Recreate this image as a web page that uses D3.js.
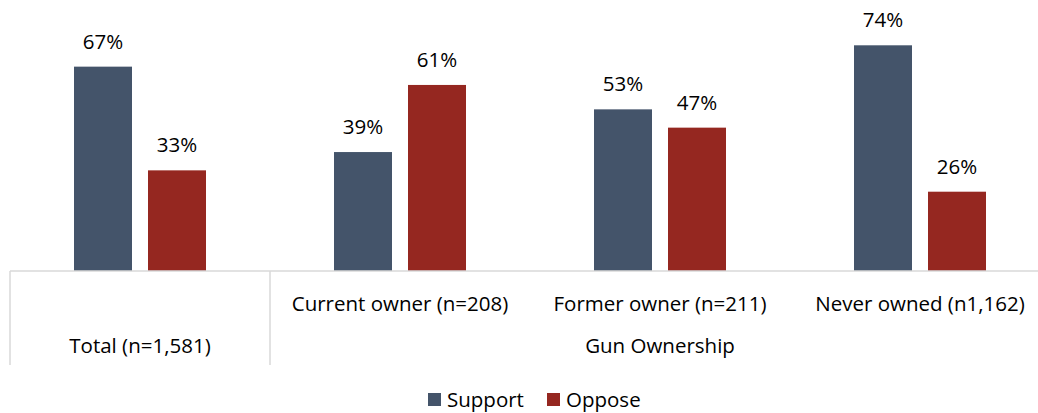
<!DOCTYPE html>
<html>
<head>
<meta charset="utf-8">
<script src="https://cdn.jsdelivr.net/npm/d3@7"></script>
<style>
  html, body { margin: 0; padding: 0; background: #fff; }
  svg { display: block; font-family: "Open Sans", Lato, sans-serif; }
</style>
</head>
<body>
<svg id="chart" width="1038" height="413"></svg>
<script>
// Survey results by group
const categories = ["Total (n=1,581)", "Current owner (n=208)", "Former owner (n=211)", "Never owned (n1,162)"];
const series = ["Support", "Oppose"];
const supportValues = [67, 39, 53, 74];
const opposeValues = [33, 61, 47, 26];
const groupLabel = "Gun Ownership";
const colors = ["#44546a", "#952720"];

const svg = d3.select("#chart");
const baseY = 271;
const fontSize = 20.5;

const x = d3.scaleBand().domain(categories).range([10, 1050]).padding(0);
const xInner = d3.scaleBand().domain(series).range([64, 196]).paddingInner(16 / 74).paddingOuter(0);
const y = d3.scaleLinear().domain([0, 80]).range([baseY, 27]);
const color = d3.scaleOrdinal().domain(series).range(colors);

const rows = categories.map((c, i) => ({
  category: c,
  values: [
    { key: "Support", value: supportValues[i] },
    { key: "Oppose", value: opposeValues[i] }
  ]
}));

const groups = svg.selectAll("g.group")
  .data(rows)
  .join("g")
  .attr("class", "group")
  .attr("transform", d => `translate(${x(d.category)},0)`);

groups.selectAll("rect")
  .data(d => d.values)
  .join("rect")
  .attr("x", d => xInner(d.key))
  .attr("width", xInner.bandwidth())
  .attr("y", d => y(d.value))
  .attr("height", d => y(0) - y(d.value))
  .attr("fill", d => color(d.key));

groups.selectAll("text.value")
  .data(d => d.values)
  .join("text")
  .attr("class", "value")
  .attr("x", d => xInner(d.key) + xInner.bandwidth() / 2)
  .attr("y", d => y(d.value) - 18)
  .attr("text-anchor", "middle")
  .attr("font-size", fontSize)
  .attr("fill", "#000")
  .text(d => d.value + "%");

// Category axis with grouped table-style lines
const axisColor = "#d9d9d9";
svg.append("line")
  .attr("x1", x.range()[0]).attr("x2", x.range()[1])
  .attr("y1", baseY).attr("y2", baseY)
  .attr("stroke", axisColor).attr("stroke-width", 1.5);

[x.range()[0], x(categories[1])].forEach(px => {
  svg.append("line")
    .attr("x1", px).attr("x2", px)
    .attr("y1", baseY).attr("y2", 365)
    .attr("stroke", axisColor).attr("stroke-width", 1.5);
});

// First-level labels
svg.append("text")
  .attr("x", x(categories[0]) + x.bandwidth() / 2)
  .attr("y", 353)
  .attr("text-anchor", "middle")
  .attr("font-size", fontSize)
  .text(categories[0]);

svg.selectAll("text.cat")
  .data(categories.slice(1))
  .join("text")
  .attr("class", "cat")
  .attr("x", d => x(d) + x.bandwidth() / 2)
  .attr("y", 311)
  .attr("text-anchor", "middle")
  .attr("font-size", fontSize)
  .text(d => d);

// Second-level group label
svg.append("text")
  .attr("x", (x(categories[1]) + x.range()[1]) / 2)
  .attr("y", 353)
  .attr("text-anchor", "middle")
  .attr("font-size", fontSize)
  .text(groupLabel);

// Legend
const legendItems = [
  { key: "Support", sx: 428, tx: 447 },
  { key: "Oppose", sx: 547, tx: 566 }
];
const legend = svg.selectAll("g.legend")
  .data(legendItems)
  .join("g")
  .attr("class", "legend");
legend.append("rect")
  .attr("x", d => d.sx).attr("y", 393)
  .attr("width", 13).attr("height", 13)
  .attr("fill", d => color(d.key));
legend.append("text")
  .attr("x", d => d.tx).attr("y", 407)
  .attr("font-size", fontSize)
  .text(d => d.key);
</script>
</body>
</html>
